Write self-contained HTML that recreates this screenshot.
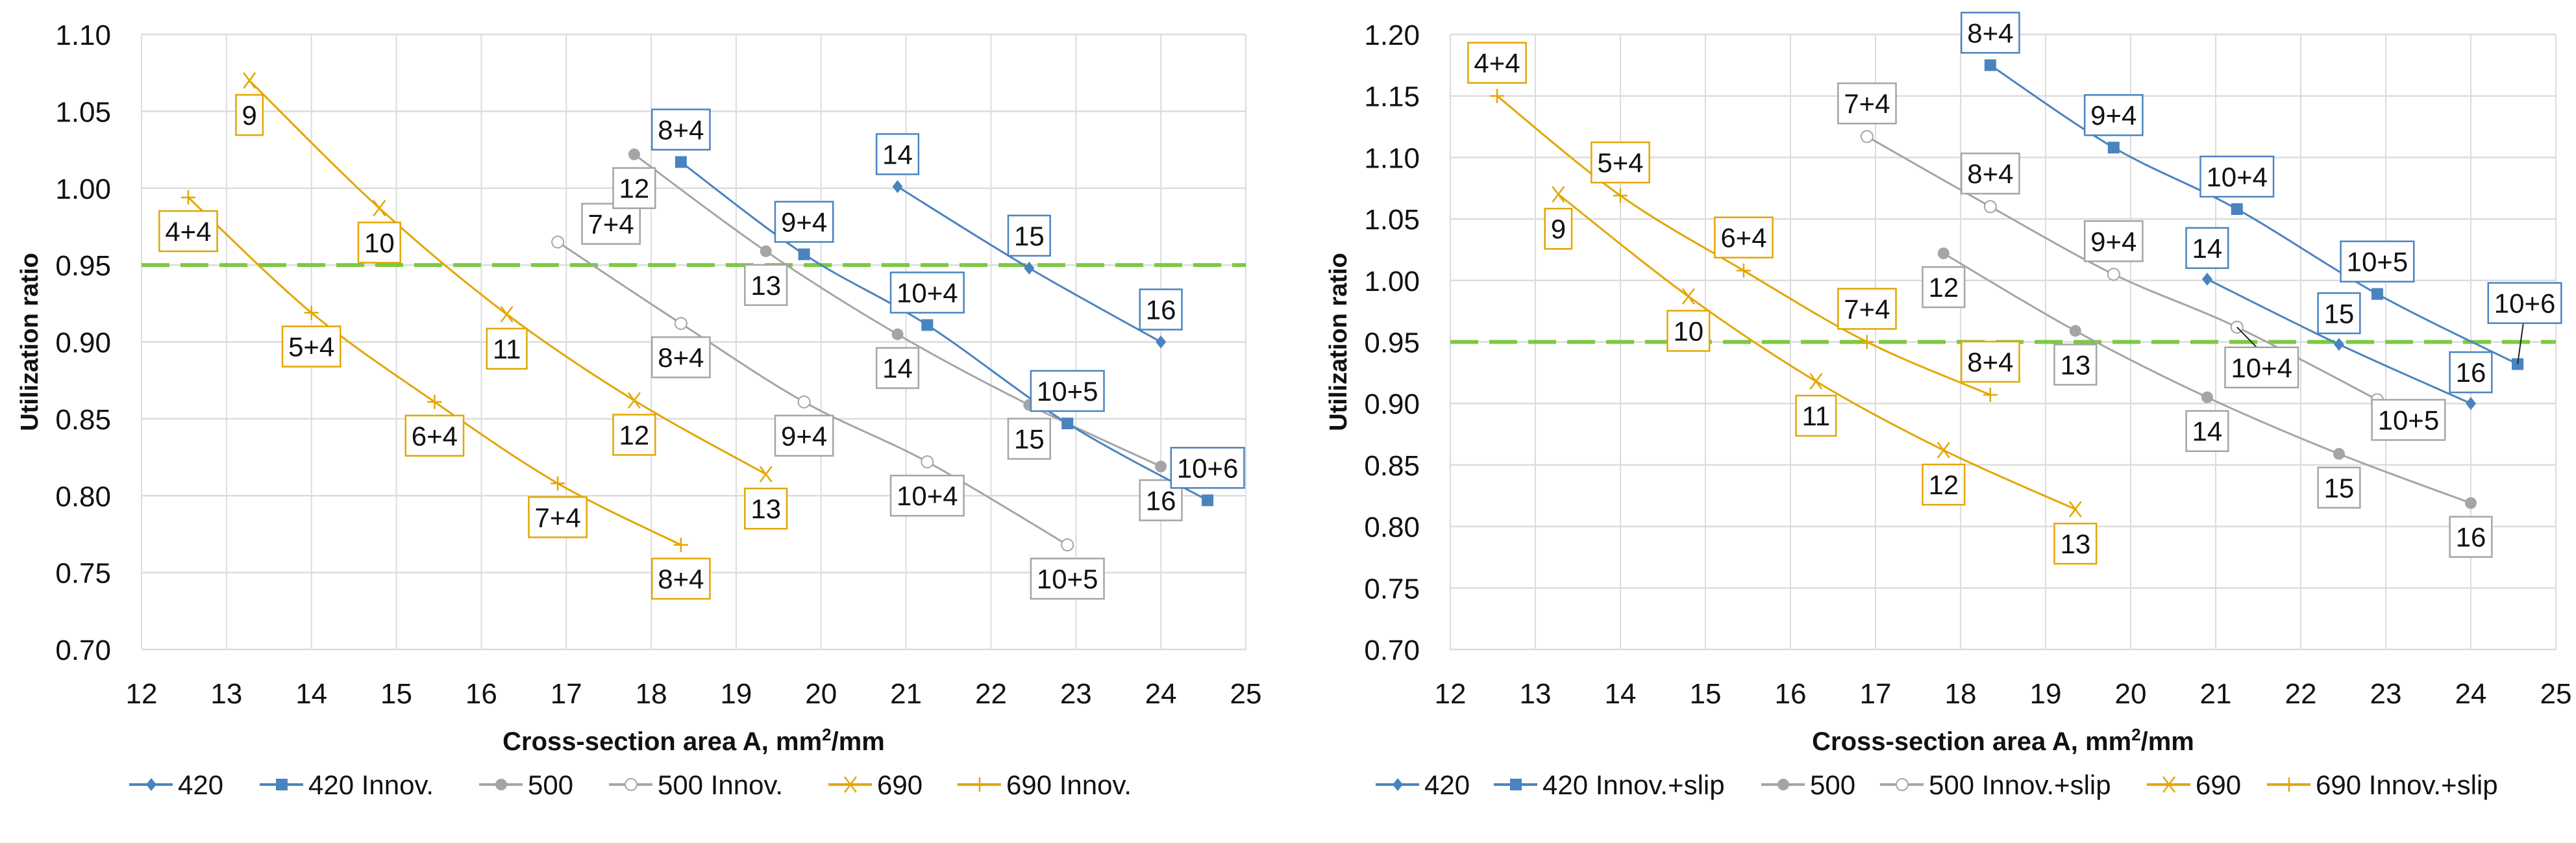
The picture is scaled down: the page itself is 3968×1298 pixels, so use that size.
<!DOCTYPE html>
<html><head><meta charset="utf-8">
<style>
html,body{margin:0;padding:0;background:#fff;}
svg{display:block;font-family:"Liberation Sans",sans-serif;}
</style></head>
<body>
<svg id="chart" width="3968" height="1298" viewBox="0 0 3968 1298" xmlns="http://www.w3.org/2000/svg"></svg>
<script>
const xTickLabels = [12,13,14,15,16,17,18,19,20,21,22,23,24,25];
const leftYTicks = ['0.70','0.75','0.80','0.85','0.90','0.95','1.00','1.05','1.10'];
const rightYTicks = ['0.70','0.75','0.80','0.85','0.90','0.95','1.00','1.05','1.10','1.15','1.20'];
const limitValue = 0.95;

const s420_x = [20.9,22.45,24.0];
const s420_y = [1.001,0.948,0.900];
const s420_lab = ['14','15','16'];
const s420i_x = [18.35,19.8,21.25,22.9,24.55];
const s420i_y = [1.017,0.957,0.911,0.847,0.797];
const s420i_lab = ['8+4','9+4','10+4','10+5','10+6'];
const s420s_y = [1.175,1.108,1.058,0.989,0.932];
const s500_x = [17.8,19.35,20.9,22.45,24.0];
const s500_y = [1.022,0.959,0.905,0.859,0.819];
const s500_lab = ['12','13','14','15','16'];
const s500i_x = [16.9,18.35,19.8,21.25,22.9];
const s500i_y = [0.965,0.912,0.861,0.822,0.768];
const s500i_lab = ['7+4','8+4','9+4','10+4','10+5'];
const s500s_y = [1.117,1.060,1.005,0.962,0.903];
const s690_x = [13.27,14.8,16.3,17.8,19.35];
const s690_y = [1.07,0.987,0.918,0.862,0.814];
const s690_lab = ['9','10','11','12','13'];
const s690i_x = [12.55,14.0,15.45,16.9,18.35];
const s690i_y = [0.994,0.919,0.861,0.808,0.768];
const s690i_lab = ['4+4','5+4','6+4','7+4','8+4'];
const s690s_y = [1.150,1.069,1.008,0.950,0.907];

const BLUE='#4A84BF', GRAY='#A5A5A5', GOLD='#E3A600', GREEN='#7CC943';
const NS='http://www.w3.org/2000/svg';
const svg=document.getElementById('chart');
function el(tag,attrs,parent){const e=document.createElementNS(NS,tag);for(const k in attrs)e.setAttribute(k,attrs[k]);(parent||svg).appendChild(e);return e;}

function smoothPath(pts){
  let d='M'+pts[0][0]+','+pts[0][1];
  for(let i=0;i<pts.length-1;i++){
    const p0=pts[i-1]||pts[i],p1=pts[i],p2=pts[i+1],p3=pts[i+2]||p2;
    const c1=[p1[0]+(p2[0]-p0[0])/6,p1[1]+(p2[1]-p0[1])/6];
    const c2=[p2[0]-(p3[0]-p1[0])/6,p2[1]-(p3[1]-p1[1])/6];
    d+=' C'+c1[0]+','+c1[1]+' '+c2[0]+','+c2[1]+' '+p2[0]+','+p2[1];
  }
  return d;
}
function marker(g,type,x,y,color){
  let m;
  if(type==='diamond') m=el('path',{d:`M${x},${y-10} L${x+8},${y} L${x},${y+10} L${x-8},${y} Z`,fill:color},g);
  else if(type==='square') m=el('rect',{x:x-9,y:y-9,width:18,height:18,fill:color},g);
  else if(type==='circle') m=el('circle',{cx:x,cy:y,r:9,fill:color},g);
  else if(type==='ocircle') m=el('circle',{cx:x,cy:y,r:9,fill:'#fff',stroke:color,'stroke-width':2},g);
  else if(type==='x') m=el('path',{d:`M${x-9},${y-12} L${x+9},${y+12} M${x+9},${y-12} L${x-9},${y+12}`,stroke:color,'stroke-width':2.5},g);
  else m=el('path',{d:`M${x-11},${y} L${x+11},${y} M${x},${y-11} L${x},${y+11}`,stroke:color,'stroke-width':2.5},g);
  return m;
}
function label(g,text,cx,cy,color){
  const grp=el('g',{},g);
  
  
  const r=el('rect',{fill:'#fff',stroke:color,'stroke-width':2.5},grp);
  const t=el('text',{x:cx,y:cy+15,'text-anchor':'middle','font-size':42,fill:'#111'},grp);
  t.textContent=text;
  const w=t.getComputedTextLength()+18;
  r.setAttribute('x',cx-w/2);r.setAttribute('y',cy-31);r.setAttribute('width',w);r.setAttribute('height',62);
}

function drawChart(cfg){
  const g=el('g',{});
  
  
  const X=v=>cfg.x0+(v-12)*(cfg.x1-cfg.x0)/13;
  const Y=v=>cfg.y1-(v-0.70)*(cfg.y1-cfg.y0)/(cfg.ymax-0.70);
  xTickLabels.forEach(v=>{
    const l=el('line',{x1:X(v),x2:X(v),y1:cfg.y0,y2:cfg.y1,stroke:'#DCDCDC','stroke-width':2},g);
    
    
    const t=el('text',{x:X(v),y:cfg.y1+83,'text-anchor':'middle','font-size':44,fill:'#111'},g);
    
    
    t.textContent=v;
  });
  cfg.yTicks.forEach(s=>{
    const v=parseFloat(s);
    const l=el('line',{x1:cfg.x0,x2:cfg.x1,y1:Y(v),y2:Y(v),stroke:'#DCDCDC','stroke-width':2.5},g);
    
    
    const t=el('text',{x:cfg.x0-47,y:Y(v)+16,'text-anchor':'end','font-size':44,fill:'#111'},g);
    
    
    t.textContent=s;
  });
  const lim=el('line',{x1:cfg.x0,x2:cfg.x1,y1:Y(limitValue),y2:Y(limitValue),stroke:GREEN,'stroke-width':6,'stroke-dasharray':'43 17'},g);
  
  
  cfg.series.forEach(s=>{
    const sg=el('g',{},g);
    
    
    const pts=s.xs.map((v,i)=>[X(v),Y(s.ys[i])]);
    el('path',{d:smoothPath(pts),fill:'none',stroke:s.color,'stroke-width':3},sg);
    pts.forEach(p=>marker(sg,s.marker,p[0],p[1],s.color));
    pts.forEach((p,i)=>{
      const o=(s.off&&s.off[i])||[0,s.dy];
      const cx=p[0]+o[0],cy=p[1]+o[1];
      if(s.leader&&s.leader[i]){
        el('line',{x1:p[0],y1:p[1],x2:cx-o[0]*0.2,y2:cy+(o[1]>0?-31:31),stroke:'#222','stroke-width':2},sg);
      }
      label(sg,s.labels[i],cx,cy,s.color);
    });
  });
  const xt=el('text',{x:(cfg.x0+cfg.x1)/2,y:cfg.y1+155,'text-anchor':'middle','font-size':40,'font-weight':'bold',fill:'#111'},g);
  
  
  xt.innerHTML='Cross-section area A, mm<tspan baseline-shift="super" font-size="26">2</tspan>/mm';
  const yt=el('text',{x:0,y:0,'text-anchor':'middle','font-size':38,'font-weight':'bold',fill:'#111',transform:`translate(${cfg.x0-160},${(cfg.y0+cfg.y1)/2}) rotate(-90)`},g);
  
  
  yt.textContent='Utilization ratio';
  cfg.legend.forEach(L=>{
    const lg=el('g',{},g);
    
    
    const ly=1208;
    el('line',{x1:L.tx-75,x2:L.tx-8,y1:ly,y2:ly,stroke:L.color,'stroke-width':4},lg);
    marker(lg,L.marker,L.tx-41,ly,L.color);
    const t=el('text',{x:L.tx,y:ly+15,'font-size':42,fill:'#111'},lg);
    t.textContent=L.text;
  });
}

drawChart({name:'left-chart',x0:218,x1:1919,y0:53,y1:1000,ymax:1.10,yTicks:leftYTicks,
  series:[
    {name:'series-690-innov',xs:s690i_x,ys:s690i_y,labels:s690i_lab,color:GOLD,marker:'plus',dy:52},
    {name:'series-690',xs:s690_x,ys:s690_y,labels:s690_lab,color:GOLD,marker:'x',dy:53},
    {name:'series-500-innov',xs:s500i_x,ys:s500i_y,labels:s500i_lab,color:GRAY,marker:'ocircle',dy:52,off:[[82,-28]]},
    {name:'series-500',xs:s500_x,ys:s500_y,labels:s500_lab,color:GRAY,marker:'circle',dy:52},
    {name:'series-420-innov',xs:s420i_x,ys:s420i_y,labels:s420i_lab,color:BLUE,marker:'square',dy:-50},
    {name:'series-420',xs:s420_x,ys:s420_y,labels:s420_lab,color:BLUE,marker:'diamond',dy:-50}
  ],
  legend:[
    {tx:274,text:'420',color:BLUE,marker:'diamond'},
    {tx:475,text:'420 Innov.',color:BLUE,marker:'square'},
    {tx:813,text:'500',color:GRAY,marker:'circle'},
    {tx:1013,text:'500 Innov.',color:GRAY,marker:'ocircle'},
    {tx:1351,text:'690',color:GOLD,marker:'x'},
    {tx:1550,text:'690 Innov.',color:GOLD,marker:'plus'}
  ]});

drawChart({name:'right-chart',x0:2234,x1:3937,y0:53,y1:1000,ymax:1.20,yTicks:rightYTicks,
  series:[
    {name:'series-690-innov-slip',xs:s690i_x,ys:s690s_y,labels:s690i_lab,color:GOLD,marker:'plus',dy:-51},
    {name:'series-690',xs:s690_x,ys:s690_y,labels:s690_lab,color:GOLD,marker:'x',dy:53},
    {name:'series-500-innov-slip',xs:s500i_x,ys:s500s_y,labels:s500i_lab,color:GRAY,marker:'ocircle',dy:-51,off:[null,null,null,[38,62],[48,31]],leader:[0,0,0,1,0]},
    {name:'series-500',xs:s500_x,ys:s500_y,labels:s500_lab,color:GRAY,marker:'circle',dy:52},
    {name:'series-420-innov-slip',xs:s420i_x,ys:s420s_y,labels:s420i_lab,color:BLUE,marker:'square',dy:-50,off:[null,null,null,null,[11,-94]],leader:[0,0,0,0,1]},
    {name:'series-420',xs:s420_x,ys:s420_y,labels:s420_lab,color:BLUE,marker:'diamond',dy:-48}
  ],
  legend:[
    {tx:2194,text:'420',color:BLUE,marker:'diamond'},
    {tx:2376,text:'420 Innov.+slip',color:BLUE,marker:'square'},
    {tx:2788,text:'500',color:GRAY,marker:'circle'},
    {tx:2971,text:'500 Innov.+slip',color:GRAY,marker:'ocircle'},
    {tx:3382,text:'690',color:GOLD,marker:'x'},
    {tx:3567,text:'690 Innov.+slip',color:GOLD,marker:'plus'}
  ]});
</script>
</body></html>
